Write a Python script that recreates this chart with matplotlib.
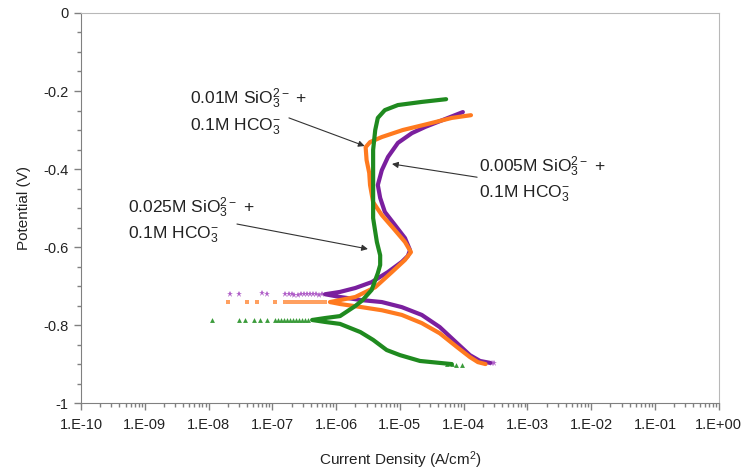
import numpy as np
import matplotlib
matplotlib.use("Agg")
import matplotlib.pyplot as plt
from matplotlib.ticker import LogLocator, MultipleLocator, FixedLocator, NullFormatter

plt.rcParams['font.family'] = ['Liberation Sans', 'DejaVu Sans']
plt.rcParams['mathtext.fontset'] = 'custom'
plt.rcParams['mathtext.rm'] = 'Liberation Sans'
plt.rcParams['mathtext.it'] = 'Liberation Sans:italic'
plt.rcParams['mathtext.bf'] = 'Liberation Sans:bold'

# Polarization curves: current density (A/cm2) and potential (V)
# 0.005M SiO3 2- + 0.1M HCO3-
i_005 = [9.7e-5, 5.1e-5, 2.5e-5, 1.54e-5, 9.3e-6, 6.5e-6, 5.2e-6, 4.5e-6, 4.9e-6,
         5.8e-6, 8.4e-6, 1.2e-5, 1.44e-5, 1.33e-5, 1.07e-5, 6.5e-6, 3.6e-6, 2.0e-6,
         1.15e-6, 6.7e-7, 1.15e-6, 2.5e-6, 5.2e-6, 1.07e-5, 2.2e-5, 4.2e-5, 7.8e-5,
         1.25e-4, 1.8e-4, 2.6e-4]
E_005 = [-0.254, -0.272, -0.292, -0.308, -0.333, -0.369, -0.403, -0.441, -0.474,
         -0.510, -0.544, -0.577, -0.608, -0.623, -0.638, -0.664, -0.690, -0.705,
         -0.715, -0.721, -0.728, -0.736, -0.741, -0.754, -0.774, -0.805, -0.846,
         -0.877, -0.892, -0.897]
i_005_pts = [2.2e-8, 3.0e-8, 6.9e-8, 8.2e-8, 1.6e-7, 1.8e-7, 2.0e-7, 2.2e-7, 2.5e-7,
             2.8e-7, 3.1e-7, 3.5e-7, 3.9e-7, 4.3e-7, 4.8e-7, 5.4e-7, 6.0e-7,
             2.8e-4, 3.0e-4]
E_005_pts = [-0.720, -0.720, -0.719, -0.721, -0.721, -0.720, -0.720, -0.722, -0.722,
             -0.721, -0.721, -0.720, -0.720, -0.721, -0.721, -0.722, -0.721,
             -0.897, -0.898]

# 0.01M SiO3 2- + 0.1M HCO3-
i_01 = [1.3e-4, 6.5e-5, 2.65e-5, 1.11e-5, 5.2e-6, 3.4e-6, 2.9e-6, 3.0e-6, 3.3e-6,
        3.4e-6, 3.8e-6, 5.2e-6, 7.8e-6, 1.2e-5, 1.49e-5, 1.2e-5, 7.5e-6, 4.1e-6,
        2.0e-6, 1.15e-6, 8.0e-7, 1.15e-6, 2.5e-6, 5.2e-6, 1.07e-5, 2.2e-5, 4.2e-5,
        7.8e-5, 1.25e-4, 1.67e-4, 2.2e-4]
E_01 = [-0.262, -0.269, -0.285, -0.300, -0.318, -0.331, -0.344, -0.377, -0.410,
        -0.441, -0.485, -0.518, -0.551, -0.587, -0.613, -0.633, -0.664, -0.703,
        -0.728, -0.736, -0.741, -0.746, -0.754, -0.762, -0.774, -0.795, -0.821,
        -0.856, -0.882, -0.895, -0.900]
i_01_pts = [2.0e-8, 4.0e-8, 5.7e-8, 1.1e-7, 1.6e-7, 1.8e-7, 1.96e-7, 2.2e-7, 2.4e-7,
            2.7e-7, 3.0e-7, 3.3e-7, 3.7e-7, 4.2e-7, 4.7e-7, 5.2e-7, 5.8e-7, 6.6e-7]
E_01_pts = [-0.740, -0.740, -0.741, -0.740, -0.741, -0.740, -0.740, -0.741, -0.741,
            -0.740, -0.740, -0.741, -0.741, -0.740, -0.741, -0.741, -0.741, -0.741]

# 0.025M SiO3 2- + 0.1M HCO3-
i_025 = [5.3e-5, 2.2e-5, 9.3e-6, 5.8e-6, 4.5e-6, 4.1e-6, 3.8e-6, 3.8e-6, 3.8e-6,
         4.35e-6, 4.9e-6, 4.9e-6, 4.5e-6, 3.6e-6, 2.6e-6, 2.0e-6, 1.15e-6, 6.7e-7,
         4.2e-7, 6.7e-7, 1.15e-6, 2.4e-6, 3.8e-6, 6.2e-6, 1.0e-5, 2.06e-5, 4.2e-5,
         6.5e-5]
E_025 = [-0.221, -0.228, -0.236, -0.249, -0.269, -0.300, -0.351, -0.454, -0.526,
         -0.587, -0.621, -0.646, -0.667, -0.710, -0.736, -0.751, -0.777, -0.782,
         -0.787, -0.792, -0.797, -0.818, -0.838, -0.864, -0.877, -0.892, -0.897,
         -0.900]
i_025_pts = [1.13e-8, 3.0e-8, 3.7e-8, 5.2e-8, 6.4e-8, 8.2e-8, 1.1e-7, 1.24e-7,
             1.36e-7, 1.5e-7, 1.7e-7, 1.9e-7, 2.1e-7, 2.35e-7, 2.6e-7, 2.9e-7,
             3.2e-7, 3.6e-7, 5.5e-5, 6.5e-5, 7.5e-5, 9.4e-5]
E_025_pts = [-0.786, -0.786, -0.787, -0.786, -0.788, -0.787, -0.787, -0.786,
             -0.786, -0.787, -0.787, -0.786, -0.787, -0.787, -0.786, -0.787,
             -0.787, -0.787, -0.900, -0.901, -0.902, -0.902]

purple = '#7a1f9e'
orange = '#ff7a1f'
green = '#1f8a1f'

fig = plt.figure(figsize=(7.46, 4.72), dpi=100)
ax = fig.add_axes([0.1086, 0.146, 0.855, 0.8265])

ax.plot(i_005_pts, E_005_pts, ls='none', marker='*', ms=4.5, color='#b060c8', mew=0)
ax.plot(i_01_pts, E_01_pts, ls='none', marker='s', ms=3, color='#ffa060', mew=0)
ax.plot(i_025_pts, E_025_pts, ls='none', marker='^', ms=3.5, color='#3c9c3c', mew=0)

ax.plot(i_005, E_005, color=purple, lw=3, solid_capstyle='round', solid_joinstyle='round')
ax.plot(i_01, E_01, color=orange, lw=3, solid_capstyle='round', solid_joinstyle='round')
ax.plot(i_025, E_025, color=green, lw=3, solid_capstyle='round', solid_joinstyle='round')

ax.set_xscale('log')
ax.set_xlim(1e-10, 1)
ax.set_ylim(-1, 0)

xt = [10.0 ** k for k in range(-10, 1)]
ax.xaxis.set_major_locator(FixedLocator(xt))
ax.set_xticklabels(['1.E-%02d' % -k if k < 0 else '1.E+00' for k in range(-10, 1)])
ax.xaxis.set_minor_locator(LogLocator(base=10, subs=np.arange(2, 10), numticks=100))
ax.xaxis.set_minor_formatter(NullFormatter())

ax.yaxis.set_minor_locator(MultipleLocator(0.05))
ax.set_yticks([0, -0.2, -0.4, -0.6, -0.8, -1])
ax.set_yticklabels(['0', '-0.2', '-0.4', '-0.6', '-0.8', '-1'])

ax.tick_params(which='both', direction='out', color='#808080', width=1,
               labelsize=10.5, labelcolor='#222222')
ax.tick_params(which='major', length=5)
ax.tick_params(axis='x', which='major', pad=6)
ax.tick_params(axis='y', which='major', pad=4)
ax.tick_params(which='minor', length=3)

for s in ['left', 'bottom']:
    ax.spines[s].set_color('#808080')
for s in ['top', 'right']:
    ax.spines[s].set_color('#b8b8b8')

ax.set_xlabel('Current Density (A/cm$^2$)', fontsize=11, color='#222222', labelpad=12)
ax.set_ylabel('Potential (V)', fontsize=11, color='#222222', labelpad=9)

# labels with arrows to each curve
tfs = 12.5
arrow = dict(arrowstyle='-|>', color='#333333', lw=0.8, mutation_scale=9,
             shrinkA=0, shrinkB=0)

ax.text(0.171, 0.779, r'0.01M SiO$_3^{2-}$ +', transform=ax.transAxes,
        fontsize=tfs, va='center', ha='left', color='#222222')
ax.text(0.171, 0.708, r'0.1M HCO$_3^{-}$', transform=ax.transAxes,
        fontsize=tfs, va='center', ha='left', color='#222222')
ax.annotate('', xy=(2.8e-6, -0.341), xycoords='data',
            xytext=(0.326, 0.731), textcoords='axes fraction', arrowprops=arrow)

ax.text(0.624, 0.605, r'0.005M SiO$_3^{2-}$ +', transform=ax.transAxes,
        fontsize=tfs, va='center', ha='left', color='#222222')
ax.text(0.624, 0.536, r'0.1M HCO$_3^{-}$', transform=ax.transAxes,
        fontsize=tfs, va='center', ha='left', color='#222222')
ax.annotate('', xy=(7.5e-6, -0.387), xycoords='data',
            xytext=(0.621, 0.579), textcoords='axes fraction', arrowprops=arrow)

ax.text(0.0737, 0.500, r'0.025M SiO$_3^{2-}$ +', transform=ax.transAxes,
        fontsize=tfs, va='center', ha='left', color='#222222')
ax.text(0.0737, 0.431, r'0.1M HCO$_3^{-}$', transform=ax.transAxes,
        fontsize=tfs, va='center', ha='left', color='#222222')
ax.annotate('', xy=(3.15e-6, -0.605), xycoords='data',
            xytext=(0.2445, 0.459), textcoords='axes fraction', arrowprops=arrow)

fig.savefig('out.png', dpi=100)
